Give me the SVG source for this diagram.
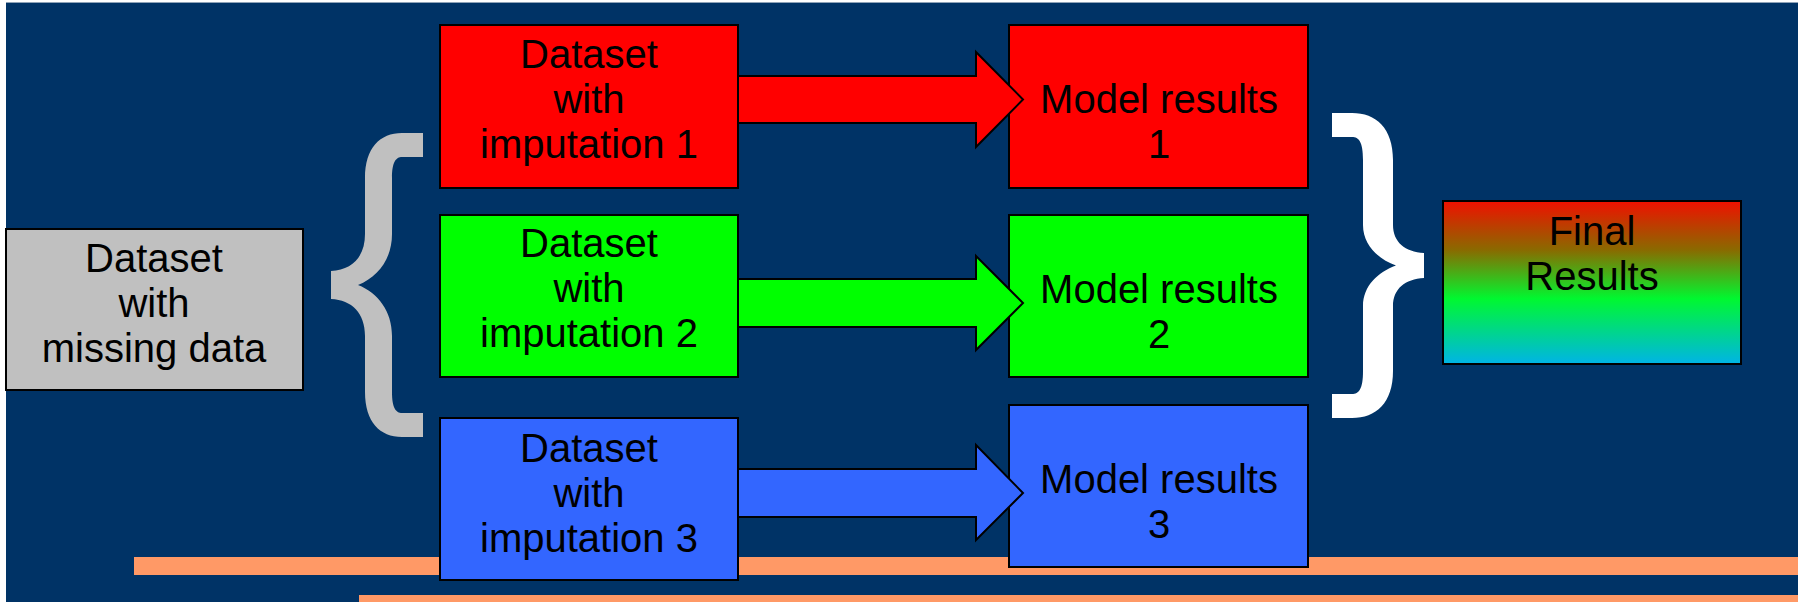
<svg xmlns="http://www.w3.org/2000/svg" width="1802" height="602" viewBox="0 0 1802 602">
<defs>
<linearGradient id="finalGrad" x1="0" y1="0" x2="0" y2="1">
<stop offset="0" stop-color="#f01000"/>
<stop offset="0.3" stop-color="#8a6a00"/>
<stop offset="0.6" stop-color="#00f830"/>
<stop offset="1" stop-color="#00b4e6"/>
</linearGradient>
<style>
.box{stroke:#000;stroke-width:2}
.arrow{stroke:#000;stroke-width:2;stroke-linejoin:miter}
.t{font-family:"Liberation Sans",Arial,sans-serif;font-size:40px;fill:#000;text-anchor:middle}
.red{fill:#ff0000}
.green{fill:#00ff00}
.blue{fill:#3366ff}
.orange{fill:#ff9966}
</style>
</defs>
<rect x="0" y="0" width="1802" height="602" fill="#ffffff"/>
<rect x="6" y="2" width="1792" height="600" fill="#003366"/>
<line x1="6" y1="2.5" x2="1798" y2="2.5" stroke="#8fa3b8" stroke-width="1"/>

<g id="decor">
<rect class="orange" x="134" y="557" width="1664" height="18"/>
<rect class="orange" x="359" y="595" width="1439" height="7"/>
</g>

<g id="braces">
<path id="brace-left" fill="#c0c0c0" d="M423,133 L402,133 C380,133 365,148 365,178 L365,234 C365,257 352,270 331,271 L331,299 C352,300 365,313 365,336 L365,392 C365,422 380,437 402,437 L423,437 L423,413 L402,413 C396,413 392,408 392,392 L392,336 C392,311 378,293 358,285 C378,277 392,259 392,234 L392,178 C392,162 396,157 402,157 L423,157 Z"/>
<path id="brace-right" fill="#ffffff" d="M1332,113 L1352,113 C1376,113 1393,128 1393,160 L1393,225 C1393,242 1405,252 1424,253 L1424,278 C1405,279 1393,289 1393,306 L1393,371 C1393,403 1376,418 1352,418 L1332,418 L1332,394 L1352,394 C1359,394 1363,389 1363,371 L1363,306 C1363,286 1378,272 1396,265.5 C1378,259 1363,245 1363,225 L1363,160 C1363,142 1359,137 1352,137 L1332,137 Z"/>
</g>

<g id="missing">
<rect class="box" x="6" y="229" width="297" height="161" fill="#c0c0c0"/>
<text class="t" x="154" y="272">Dataset</text>
<text class="t" x="154" y="317">with</text>
<text class="t" x="154" y="362">missing data</text>
</g>

<g id="imp1">
<rect class="box red" x="440" y="25" width="298" height="163"/>
<text class="t" x="589" y="68">Dataset</text>
<text class="t" x="589" y="113">with</text>
<text class="t" x="589" y="158">imputation 1</text>
</g>
<g id="imp2">
<rect class="box green" x="440" y="215" width="298" height="162"/>
<text class="t" x="589" y="257">Dataset</text>
<text class="t" x="589" y="302">with</text>
<text class="t" x="589" y="347">imputation 2</text>
</g>
<g id="imp3">
<rect class="box blue" x="440" y="418" width="298" height="162"/>
<text class="t" x="589" y="462">Dataset</text>
<text class="t" x="589" y="507">with</text>
<text class="t" x="589" y="552">imputation 3</text>
</g>

<g id="res1">
<rect class="box red" x="1009" y="25" width="299" height="163"/>
<text class="t" x="1159" y="113">Model results</text>
<text class="t" x="1159" y="158">1</text>
</g>
<g id="res2">
<rect class="box green" x="1009" y="215" width="299" height="162"/>
<text class="t" x="1159" y="303">Model results</text>
<text class="t" x="1159" y="348">2</text>
</g>
<g id="res3">
<rect class="box blue" x="1009" y="405" width="299" height="162"/>
<text class="t" x="1159" y="493">Model results</text>
<text class="t" x="1159" y="538">3</text>
</g>

<g id="connectors">
<path class="arrow red" d="M738,76 L976,76 L976,52 L1023,99.5 L976,147 L976,123 L738,123 Z"/>
<path class="arrow green" d="M738,279 L976,279 L976,256 L1023,303 L976,350 L976,327 L738,327 Z"/>
<path class="arrow blue" d="M738,469 L976,469 L976,445 L1023,493 L976,540 L976,517 L738,517 Z"/>
</g>

<g id="final">
<rect class="box" x="1443" y="201" width="298" height="163" fill="url(#finalGrad)"/>
<text class="t" x="1592" y="245">Final</text>
<text class="t" x="1592" y="290">Results</text>
</g>
</svg>
